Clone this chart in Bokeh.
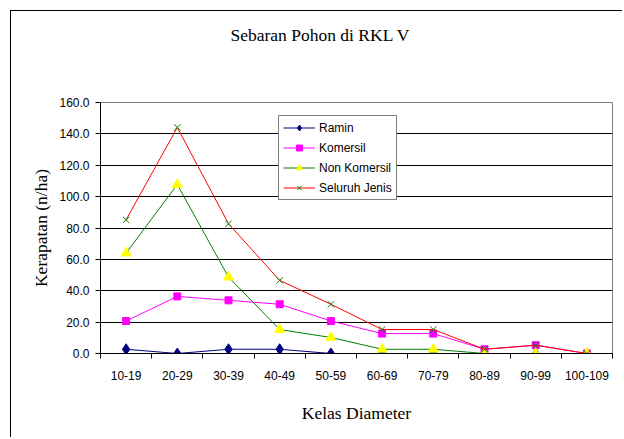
import math
from bokeh.plotting import figure
from bokeh.models import Range1d, FixedTicker, Legend, LegendItem, LinearAxis
from bokeh.embed import file_html
from bokeh.resources import INLINE

# ---- data ----
categories = ["10-19", "20-29", "30-39", "40-49", "50-59",
              "60-69", "70-79", "80-89", "90-99", "100-109"]
ramin = [2.7, 0.0, 2.7, 2.7, 0.0, 0.0, 0.0, 0.0, 0.0, 0.0]
komersil = [20.7, 36.4, 33.9, 31.4, 20.7, 12.7, 12.7, 2.7, 5.3, 0.0]
non_komersil = [64.0, 107.7, 48.7, 15.3, 10.2, 2.7, 2.7, 0.0, 0.0, 0.0]
seluruh_jenis = [85.2, 144.1, 82.7, 46.6, 31.4, 15.3, 15.3, 2.7, 5.3, 0.0]
y_ticks = [0, 20, 40, 60, 80, 100, 120, 140, 160]

title_text = "Sebaran Pohon di  RKL V"
x_title = "Kelas Diameter"
y_title = "Kerapatan (n/ha)"

n = len(categories)
xs = [i + 0.5 for i in range(n)]

serif = "Liberation Serif"
sans = "Liberation Sans"

p = figure(width=612, height=427, output_backend="svg", toolbar_location=None,
           x_range=Range1d(0, n), y_range=Range1d(0, 160),
           min_border_left=89, min_border_right=11, min_border_top=91, min_border_bottom=85)
p.styles = {"border-left": "1px solid black", "border-top": "1px solid black",
            "margin-left": "10px", "margin-top": "10px"}
p.background_fill_color = "white"
p.border_fill_color = "white"
p.outline_line_color = "#808080"
p.outline_line_width = 1

# invisible spacer axis above the frame (pushes the title upward)
mid = n / 2
spacer = LinearAxis(ticker=FixedTicker(ticks=[mid]), axis_line_color=None,
                    major_tick_line_color=None, minor_tick_line_color=None,
                    major_tick_in=0, major_tick_out=53, minor_tick_out=0,
                    major_label_standoff=0, major_label_overrides={mid: ""},
                    major_label_text_font_size="1px")
p.add_layout(spacer, "above")

# title
p.title.text = title_text
p.title.align = "left"
p.title.offset = 130
p.title.vertical_align = "bottom"
p.title.standoff = 10
p.title.text_font = serif
p.title.text_font_size = "17.5px"
p.title.text_font_style = "normal"
p.title.text_color = "black"

# axes
xa = p.below[0]
xa.ticker = FixedTicker(ticks=xs, minor_ticks=list(range(n + 1)))
xa.major_label_overrides = {x: c for x, c in zip(xs, categories)}
xa.major_tick_in = 0
xa.major_tick_out = 0
xa.minor_tick_in = 0
xa.minor_tick_out = 5
xa.minor_tick_line_color = "black"
xa.axis_line_color = "black"
xa.major_label_standoff = 12
xa.major_label_text_font = sans
xa.major_label_text_font_size = "12px"
xa.major_label_text_color = "black"
xa.axis_label = x_title
xa.axis_label_text_font = serif
xa.axis_label_text_font_size = "17.5px"
xa.axis_label_text_font_style = "normal"
xa.axis_label_text_color = "black"
xa.axis_label_standoff = 20

ya = p.left[0]
ya.ticker = FixedTicker(ticks=y_ticks)
ya.major_label_overrides = {t: f"{t:.1f}" for t in y_ticks}
ya.major_tick_in = 0
ya.major_tick_out = 5
ya.minor_tick_line_color = None
ya.axis_line_color = "black"
ya.major_tick_line_color = "black"
ya.major_label_standoff = 6
ya.major_label_text_font = sans
ya.major_label_text_font_size = "12px"
ya.major_label_text_color = "black"
ya.axis_label = y_title
ya.axis_label_text_font = serif
ya.axis_label_text_font_size = "17.5px"
ya.axis_label_text_font_style = "normal"
ya.axis_label_text_color = "black"
ya.axis_label_standoff = 5

p.xgrid.grid_line_color = None
p.ygrid.grid_line_color = "black"
p.ygrid.grid_line_width = 1
p.ygrid.grid_line_alpha = 1.0

# series
l1 = p.line(xs, ramin, line_color="#000080", line_width=1)
m1 = p.scatter(xs, ramin, marker="diamond", size=11, fill_color="#000080", line_color="#000080")
l2 = p.line(xs, komersil, line_color="#FF00FF", line_width=1)
m2 = p.scatter(xs, komersil, marker="square", size=7, fill_color="#FF00FF", line_color="#FF00FF")
l3 = p.line(xs, non_komersil, line_color="#008000", line_width=1)
m3 = p.scatter(xs, non_komersil, marker="triangle", size=10, fill_color="#FFFF00", line_color="#FFFF00")
l4 = p.line(xs, seluruh_jenis, line_color="#FF0000", line_width=1)
m4 = p.scatter(xs, seluruh_jenis, marker="x", size=9, line_color="#008000", line_width=1)

legend = Legend(items=[
    LegendItem(label="Ramin", renderers=[l1, m1]),
    LegendItem(label="Komersil", renderers=[l2, m2]),
    LegendItem(label="Non Komersil", renderers=[l3, m3]),
    LegendItem(label="Seluruh Jenis", renderers=[l4, m4]),
], location=(178, 153))
legend.border_line_color = "black"
legend.border_line_width = 1
legend.background_fill_color = "white"
legend.background_fill_alpha = 1.0
legend.padding = 4
legend.margin = 0
legend.spacing = 5
legend.glyph_width = 32
legend.glyph_height = 15
legend.label_height = 15
legend.label_standoff = 4
legend.label_text_font = sans
legend.label_text_font_size = "12px"
legend.label_text_color = "black"
p.add_layout(legend, "center")

open("out.html", "w").write(file_html(p, INLINE))
